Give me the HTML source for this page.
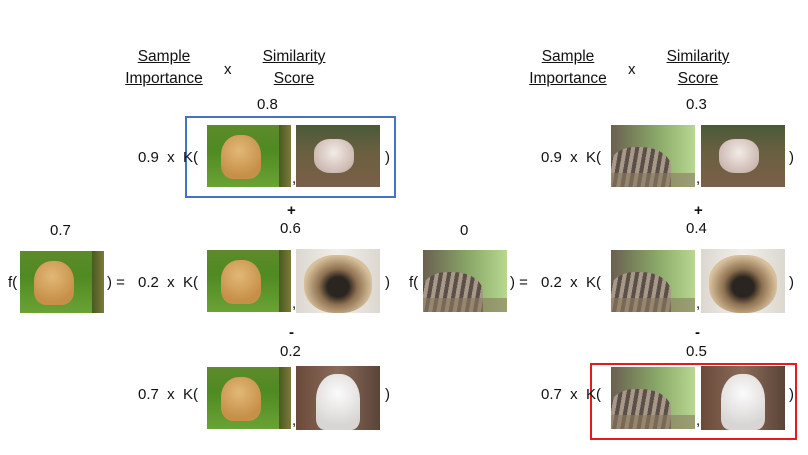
<!DOCTYPE html>
<html><head><meta charset="utf-8"><style>
body{margin:0;width:808px;height:455px;background:#fff;position:relative;overflow:hidden;font-family:"Liberation Sans",sans-serif;font-size:15px;color:#111}
.t{position:absolute;white-space:nowrap;line-height:18px}
.u{text-decoration:underline;text-align:center;line-height:22px;font-size:15.5px}
.img{position:absolute;width:84px;height:62px;overflow:hidden}
.dog{background:linear-gradient(#5e8a2c,#4f8a22 40%,#6aa234);}
.dog::before{content:"";position:absolute;left:14px;top:10px;width:40px;height:44px;border-radius:45% 45% 30% 30%;background:radial-gradient(circle at 45% 35%,#e2b877,#c69049 70%)}
.dog::after{content:"";position:absolute;right:0;top:0;width:12px;height:62px;background:linear-gradient(90deg,#4a5a20,#7c7a3a)}
.wdog{background:linear-gradient(#4a5a3a,#6a6040 45%,#7a5f48)}
.wdog::before{content:"";position:absolute;left:18px;top:14px;width:40px;height:34px;border-radius:40%;background:radial-gradient(circle at 50% 40%,#f2ece6,#cbb7b0 75%)}
.pug{background:linear-gradient(90deg,#dcd8d0,#f0efe9 50%,#dcd8d0)}
.pug::before{content:"";position:absolute;left:8px;top:6px;width:68px;height:58px;border-radius:45%;background:radial-gradient(ellipse at 50% 55%,#2a2520 22%,#8e7150 40%,#d8c09c 70%)}
.wcat{background:linear-gradient(90deg,#6a4a3a,#8a6a58 50%,#5a4438)}
.wcat::before{content:"";position:absolute;left:20px;top:8px;width:44px;height:56px;border-radius:45% 45% 20% 20%;background:radial-gradient(circle at 50% 35%,#fbfbfb,#d8d6d4 75%)}
.cat{background:linear-gradient(90deg,#6a6050,#8aa868 55%,#b8d890)}
.cat::before{content:"";position:absolute;left:0;top:22px;width:60px;height:40px;border-radius:40% 50% 0 0;background:repeating-linear-gradient(100deg,#5a5048 0 4px,#a89888 4px 8px)}
.cat::after{content:"";position:absolute;left:0;bottom:0;width:84px;height:14px;background:#8a7a60;opacity:.6}
</style></head><body>
<div class="t u" style="left:122px;top:46px;width:84px">Sample<br>Importance</div>
<div class="t" style="left:224px;top:61px">x</div>
<div class="t u" style="left:252px;top:46px;width:84px">Similarity<br>Score</div>
<div class="t u" style="left:526px;top:46px;width:84px">Sample<br>Importance</div>
<div class="t" style="left:628px;top:61px">x</div>
<div class="t u" style="left:656px;top:46px;width:84px">Similarity<br>Score</div>

<div class="t" style="left:50px;top:222px">0.7</div>
<div class="t" style="left:8px;top:274px">f(</div>
<div class="img dog" style="left:20px;top:251px"></div>
<div class="t" style="left:107px;top:274px">) =</div>

<div class="t" style="left:257px;top:96px">0.8</div>
<div style="position:absolute;left:185px;top:116px;width:207px;height:78px;border:2.5px solid #4472c4"></div>
<div class="t" style="left:138px;top:149px">0.9&nbsp; x&nbsp; K(</div>
<div class="img dog" style="left:207px;top:125px"></div>
<div class="t" style="left:292px;top:170px">,</div>
<div class="img wdog" style="left:296px;top:125px"></div>
<div class="t" style="left:385px;top:149px">)</div>
<div class="t" style="left:287px;top:202px;font-weight:bold">+</div>
<div class="t" style="left:280px;top:220px">0.6</div>
<div class="t" style="left:138px;top:274px">0.2&nbsp; x&nbsp; K(</div>
<div class="img dog" style="left:207px;top:250px"></div>
<div class="t" style="left:292px;top:295px">,</div>
<div class="img pug" style="left:296px;top:249px;height:64px"></div>
<div class="t" style="left:385px;top:274px">)</div>
<div class="t" style="left:289px;top:324px;font-weight:bold">-</div>
<div class="t" style="left:280px;top:343px">0.2</div>
<div class="t" style="left:138px;top:386px">0.7&nbsp; x&nbsp; K(</div>
<div class="img dog" style="left:207px;top:367px"></div>
<div class="t" style="left:292px;top:412px">,</div>
<div class="img wcat" style="left:296px;top:366px;height:64px"></div>
<div class="t" style="left:385px;top:386px">)</div>

<div class="t" style="left:460px;top:222px">0</div>
<div class="t" style="left:409px;top:274px">f(</div>
<div class="img cat" style="left:423px;top:250px"></div>
<div class="t" style="left:510px;top:274px">) =</div>

<div class="t" style="left:686px;top:96px">0.3</div>
<div class="t" style="left:541px;top:149px">0.9&nbsp; x&nbsp; K(</div>
<div class="img cat" style="left:611px;top:125px"></div>
<div class="t" style="left:696px;top:170px">,</div>
<div class="img wdog" style="left:701px;top:125px"></div>
<div class="t" style="left:789px;top:149px">)</div>
<div class="t" style="left:694px;top:202px;font-weight:bold">+</div>
<div class="t" style="left:686px;top:220px">0.4</div>
<div class="t" style="left:541px;top:274px">0.2&nbsp; x&nbsp; K(</div>
<div class="img cat" style="left:611px;top:250px"></div>
<div class="t" style="left:696px;top:295px">,</div>
<div class="img pug" style="left:701px;top:249px;height:64px"></div>
<div class="t" style="left:789px;top:274px">)</div>
<div class="t" style="left:695px;top:324px;font-weight:bold">-</div>
<div class="t" style="left:686px;top:343px">0.5</div>
<div style="position:absolute;left:590px;top:363px;width:203px;height:73px;border:2.5px solid #e8191b"></div>
<div class="t" style="left:541px;top:386px">0.7&nbsp; x&nbsp; K(</div>
<div class="img cat" style="left:611px;top:367px"></div>
<div class="t" style="left:696px;top:412px">,</div>
<div class="img wcat" style="left:701px;top:366px;height:64px"></div>
<div class="t" style="left:789px;top:386px">)</div>
</body></html>
